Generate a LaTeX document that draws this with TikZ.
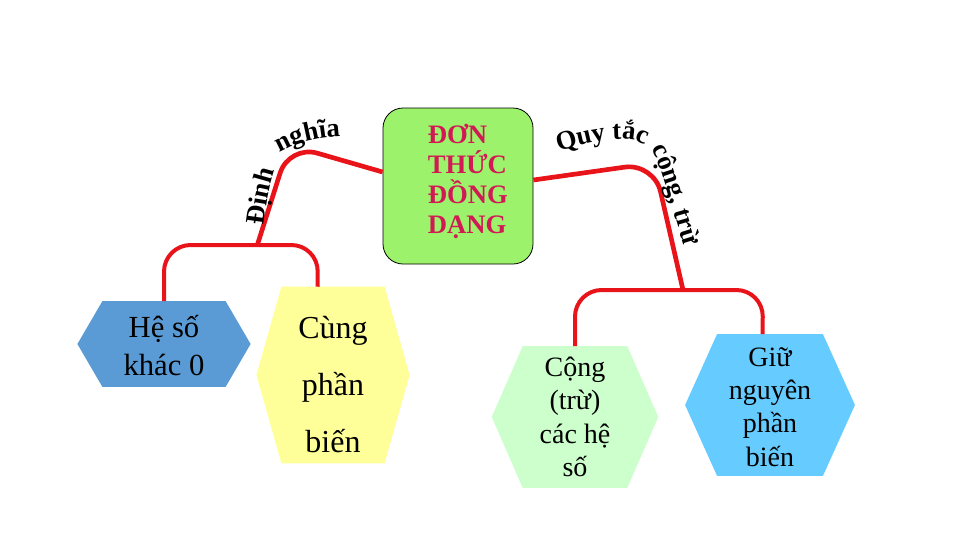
\documentclass[tikz,border=0pt]{standalone}
\usepackage{fontspec}
\setmainfont{Liberation Serif}
\usetikzlibrary{calc,positioning,decorations.text,backgrounds}
\definecolor{xanhLa}{HTML}{9CF26A}
\definecolor{doTieuDe}{HTML}{D11A55}
\definecolor{doNoi}{HTML}{E8141A}
\definecolor{xanhDam}{HTML}{5B9BD5}
\definecolor{vangNhat}{HTML}{FFFF99}
\definecolor{xanhNhat}{HTML}{CCFFCC}
\definecolor{xanhTroi}{HTML}{66CCFF}

% nen luc giac cho mot node: #1 ten node, #2 do nhon, #3 mau
\newcommand{\nenluc}[3]{%
  \fill[#3] (#1.north west) -- (#1.north east) -- ($(#1.east)+(#2,0)$)
    -- (#1.south east) -- (#1.south west) -- ($(#1.west)-(#2,0)$) -- cycle;}

\begin{document}
\begin{tikzpicture}[x=0.75pt,y=-0.75pt,
  noi/.style={doNoi,line width=3.5pt,rounded corners=22pt},
  nhanh/.style={doNoi,line width=3pt,rounded corners=20pt},
  o/.style={inner sep=0pt,align=center,text=black},
  chucong/.style={decorate,decoration={text along path,text align=center,
      text={|\bfseries\fontsize{20}{20}\selectfont|#1}}}]
  \useasboundingbox (0,0) rectangle (960,540);

  \node[fill=xanhLa,draw=black,line width=.6pt,rounded corners=15pt,
    minimum width=112.5pt,minimum height=117pt] (dtdd) at (458,186) {};
  \node[anchor=west,align=left,inner sep=0pt,text=doTieuDe,
    font=\bfseries\fontsize{20}{22.5}\selectfont] (tieude)
    at ($(dtdd.west)+(45,-5)$) {ĐƠN\\THỨC\\ĐỒNG\\DẠNG};

  \node[o,minimum width=92pt,minimum height=64pt,
    font=\fontsize{23}{28.5}\selectfont] (heso) at (164,344)
    {\rule{0pt}{19pt}Hệ số\\khác 0};
  \node[o,minimum width=77pt,minimum height=132pt,
    font=\fontsize{24}{43}\selectfont] (cung) at (333,375)
    {\rule{0pt}{31pt}Cùng\\phần\\biến};
  \node[o,minimum width=78pt,minimum height=106pt,
    font=\fontsize{21}{25}\selectfont] (congtru) at (575,417) {Cộng\\(trừ)\\các hệ\\số};
  \node[o,minimum width=79pt,minimum height=106pt,
    font=\fontsize{21}{25}\selectfont] (giunguyen) at (770,405)
    {\rule{0pt}{17pt}Giữ\\nguyên\\phần\\biến};

  \begin{scope}[on background layer]
    \nenluc{heso}{25}{xanhDam}
    \nenluc{cung}{25}{vangNhat}
    \nenluc{congtru}{31}{xanhNhat}
    \nenluc{giunguyen}{32}{xanhTroi}
  \end{scope}

  \coordinate (nhanhtrai) at (257,246);
  \coordinate (nhanhphai) at (683,290);
  \draw[noi] ([yshift=10.5pt]dtdd.west) -- (289,145) -- (nhanhtrai);
  \draw[noi] ([yshift=4.5pt]dtdd.east) -- (654,163) -- (nhanhphai);
  \draw[nhanh] (heso.north) -- (164,245) -- (318,245)
    -- ($(cung.north west)!.35!(cung.north east)$);
  \draw[nhanh] (congtru.north) -- (575,290) -- (763,290)
    -- ($(giunguyen.north west)!.43!(giunguyen.north east)$);

  % chu uon theo duong cong
  \path[chucong=Định] (263,230) .. controls (266,205) and (269,186) .. (276,166);
  \path[chucong=nghĩa] (274,156) .. controls (290,145) and (312,137) .. (347,136);
  \path[chucong={Quy tắc cộng, trừ}]
    (553,153) .. controls (600,138) and (635,132) .. (652,150)
    .. controls (664,170) and (672,210) .. (686,252);
\end{tikzpicture}
\end{document}
